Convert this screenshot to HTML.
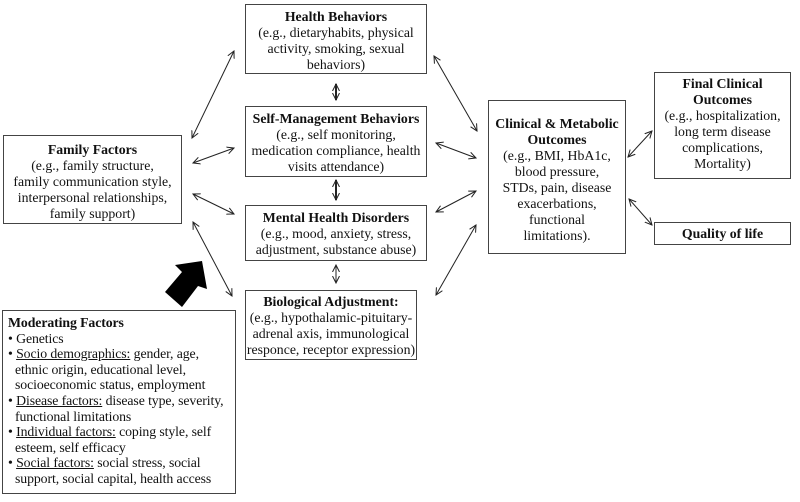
<!DOCTYPE html>
<html><head><style>
body{margin:0;background:#fff;width:800px;height:502px;position:relative;overflow:hidden;font-family:"Liberation Serif",serif;font-size:13.8px;line-height:16px;color:#111}
.b{position:absolute;border:1.3px solid #444;box-sizing:border-box;text-align:center;white-space:nowrap}
b{font-weight:bold}
u{text-decoration:underline}
.m{text-align:left;padding:4px 0 0 5px;line-height:15.6px;letter-spacing:-0.1px}
.i{padding-left:7px}
svg{position:absolute;left:0;top:0}
</style></head><body>
<div class="b" style="left:245px;top:4px;width:182px;height:70px;padding-top:4px"><b>Health Behaviors</b><br>(e.g., dietaryhabits, physical<br>activity, smoking, sexual<br>behaviors)</div>
<div class="b" style="left:245px;top:106px;width:182px;height:71px;padding-top:4px"><b>Self-Management Behaviors</b><br>(e.g., self monitoring,<br>medication compliance, health<br>visits attendance)</div>
<div class="b" style="left:245px;top:205px;width:182px;height:56px;padding-top:4px"><b>Mental Health Disorders</b><br>(e.g., mood, anxiety, stress,<br>adjustment, substance abuse)</div>
<div class="b" style="left:245px;top:290px;width:172px;height:70px;padding-top:3px"><b>Biological Adjustment:</b><br>(e.g., hypothalamic-pituitary-<br>adrenal axis, immunological<br>responce, receptor expression)</div>
<div class="b" style="left:3px;top:135px;width:179px;height:89px;padding-top:6px"><b>Family Factors</b><br>(e.g., family structure,<br>family communication style,<br>interpersonal relationships,<br>family support)</div>
<div class="b m" style="left:2px;top:310px;width:234px;height:184px"><b>Moderating Factors</b><div>• Genetics</div><div>• <u>Socio demographics:</u> gender, age,</div><div class="i">ethnic origin, educational level,</div><div class="i">socioeconomic status, employment</div><div>• <u>Disease factors:</u> disease type, severity,</div><div class="i">functional limitations</div><div>• <u>Individual factors:</u> coping style, self</div><div class="i">esteem, self efficacy</div><div>• <u>Social factors:</u> social stress, social</div><div class="i">support, social capital, health access</div></div>
<div class="b" style="left:488px;top:100px;width:138px;height:154px;padding-top:15px"><b>Clinical &amp; Metabolic<br>Outcomes</b><br>(e.g., BMI, HbA1c,<br>blood pressure,<br>STDs, pain, disease<br>exacerbations,<br>functional<br>limitations).</div>
<div class="b" style="left:654px;top:72px;width:137px;height:107px;padding-top:3px"><b>Final Clinical<br>Outcomes</b><br>(e.g., hospitalization,<br>long term disease<br>complications,<br>Mortality)</div>
<div class="b" style="left:654px;top:222px;width:137px;height:23px;padding-top:3px"><b>Quality of life</b></div>
<svg width="800" height="502">
<defs><marker id="a" markerWidth="8" markerHeight="8" refX="7" refY="4" orient="auto-start-reverse" markerUnits="userSpaceOnUse"><path d="M0,0.5 L7,4 L0,7.5" fill="none" stroke="#222" stroke-width="1"/></marker></defs>
<g stroke="#222" stroke-width="1" marker-start="url(#a)" marker-end="url(#a)">
<line x1="192" y1="138" x2="234" y2="51"/>
<line x1="193" y1="163" x2="234" y2="148"/>
<line x1="193" y1="194" x2="234" y2="214"/>
<line x1="193" y1="222" x2="232" y2="296"/>
<line x1="336" y1="84" x2="336" y2="100" stroke-width="2"/>
<line x1="336" y1="180" x2="336" y2="200" stroke-width="2"/>
<line x1="336" y1="265" x2="336" y2="283"/>
<line x1="434" y1="56" x2="477" y2="131"/>
<line x1="436" y1="143" x2="476" y2="158"/>
<line x1="436" y1="212" x2="476" y2="191"/>
<line x1="436" y1="295" x2="476" y2="225"/>
<line x1="628" y1="157" x2="652" y2="131"/>
<line x1="629" y1="199" x2="652" y2="225"/>
</g>
<polygon points="202,261 175,265 182,272 165,292 182,307 198,286 207,289" fill="#000"/>
</svg>
</body></html>
